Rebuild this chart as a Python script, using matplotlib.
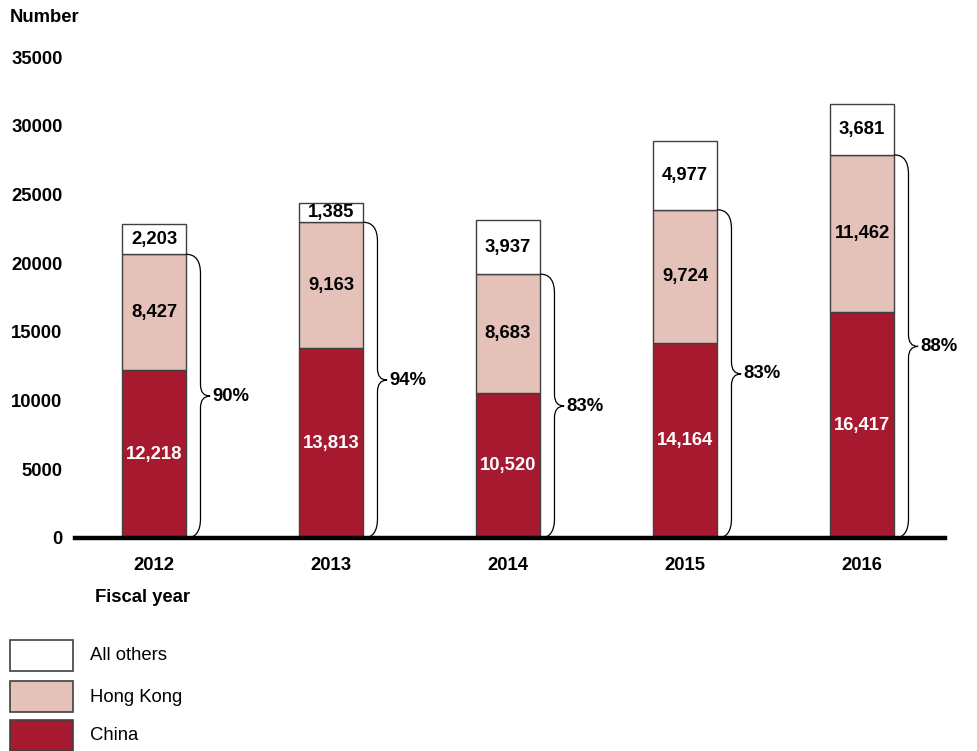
import matplotlib
matplotlib.use("Agg")
import matplotlib.pyplot as plt
import matplotlib.patches as mpatches
from matplotlib.path import Path
import numpy as np

plt.rcParams["font.family"] = ["Liberation Sans", "DejaVu Sans"]

years = ["2012", "2013", "2014", "2015", "2016"]
china = [12218, 13813, 10520, 14164, 16417]
hong_kong = [8427, 9163, 8683, 9724, 11462]
others = [2203, 1385, 3937, 4977, 3681]

C_CHINA = "#A6192E"
C_HK = "#E4C2B9"
C_OTH = "#FFFFFF"
EDGE = "#404040"
FS = 13.3

china = np.array(china)
hong_kong = np.array(hong_kong)
others = np.array(others)
x = np.arange(len(years))
bw = 0.362

fig = plt.figure(figsize=(9.77, 7.51), dpi=100)
ax = fig.add_axes([75 / 977, 1 - 538 / 751, 870 / 977, 481 / 751])

ax.bar(x, china, bw, color=C_CHINA, edgecolor=EDGE, lw=1)
ax.bar(x, hong_kong, bw, bottom=china, color=C_HK, edgecolor=EDGE, lw=1)
ax.bar(x, others, bw, bottom=china + hong_kong, color=C_OTH, edgecolor=EDGE, lw=1)

for i in range(len(years)):
    ax.text(x[i], china[i] / 2, f"{china[i]:,}", ha="center", va="center",
            color="white", fontsize=FS, fontweight="bold")
    ax.text(x[i], china[i] + hong_kong[i] / 2, f"{hong_kong[i]:,}", ha="center",
            va="center", color="black", fontsize=FS, fontweight="bold")
    ax.text(x[i], china[i] + hong_kong[i] + others[i] / 2, f"{others[i]:,}",
            ha="center", va="center", color="black", fontsize=FS, fontweight="bold")

# braces spanning China + Hong Kong
def brace(x0, y0, y1, w=0.136, h=1400):
    xm = x0 + w * 0.6
    ym = (y0 + y1) / 2
    verts = [(x0, y0), (xm, y0), (xm, y0 + h),
             (xm, ym - h * 0.6), (xm, ym), (x0 + w, ym),
             (xm, ym), (xm, ym + h * 0.6),
             (xm, y1 - h), (xm, y1), (x0, y1)]
    codes = [Path.MOVETO, Path.CURVE3, Path.CURVE3,
             Path.LINETO, Path.CURVE3, Path.CURVE3,
             Path.CURVE3, Path.CURVE3,
             Path.LINETO, Path.CURVE3, Path.CURVE3]
    ax.add_patch(mpatches.PathPatch(Path(verts, codes), fill=False,
                                    edgecolor="black", lw=0.9, clip_on=False))
    return x0 + w, ym

share = (china + hong_kong) / (china + hong_kong + others) * 100
for i in range(len(years)):
    tx, ty = brace(x[i] + bw / 2, 0, china[i] + hong_kong[i])
    ax.text(tx + 0.012, ty, f"{share[i]:.0f}%", ha="left", va="center",
            fontsize=FS, fontweight="bold")

ax.set_xlim((75 - 154) / 177, (945 - 154) / 177)
ax.set_ylim(0, 35000)
ax.set_yticks(np.arange(0, 35001, 5000))
ax.set_xticks(x)
ax.set_xticklabels(years)
for lab in ax.get_xticklabels() + ax.get_yticklabels():
    lab.set_fontweight("bold")
    lab.set_fontsize(FS)
ax.tick_params(axis="y", length=0, pad=9)
ax.tick_params(axis="x", length=0, pad=14)
for s in ["top", "right", "left"]:
    ax.spines[s].set_visible(False)
ax.spines["bottom"].set_linewidth(3.2)
ax.spines["bottom"].set_color("black")

fig.text(10 / 977, 1 - 17 / 751, "Number", ha="left", va="center",
         fontsize=FS, fontweight="bold")
fig.text(95 / 977, 1 - 598 / 751, "Fiscal year", ha="left", va="center",
         fontsize=FS, fontweight="bold")

# legend
items = [("All others", C_OTH, 640), ("Hong Kong", C_HK, 681), ("China", C_CHINA, 720)]
for label, col, ytop in items:
    fig.patches.append(mpatches.Rectangle((10 / 977, 1 - (ytop + 31) / 751), 63 / 977, 31 / 751,
                                          transform=fig.transFigure, facecolor=col,
                                          edgecolor=EDGE, lw=1.2))
    fig.text(90 / 977, 1 - (ytop + 16) / 751, label, ha="left", va="center", fontsize=FS)

fig.savefig("out.png", dpi=100)
